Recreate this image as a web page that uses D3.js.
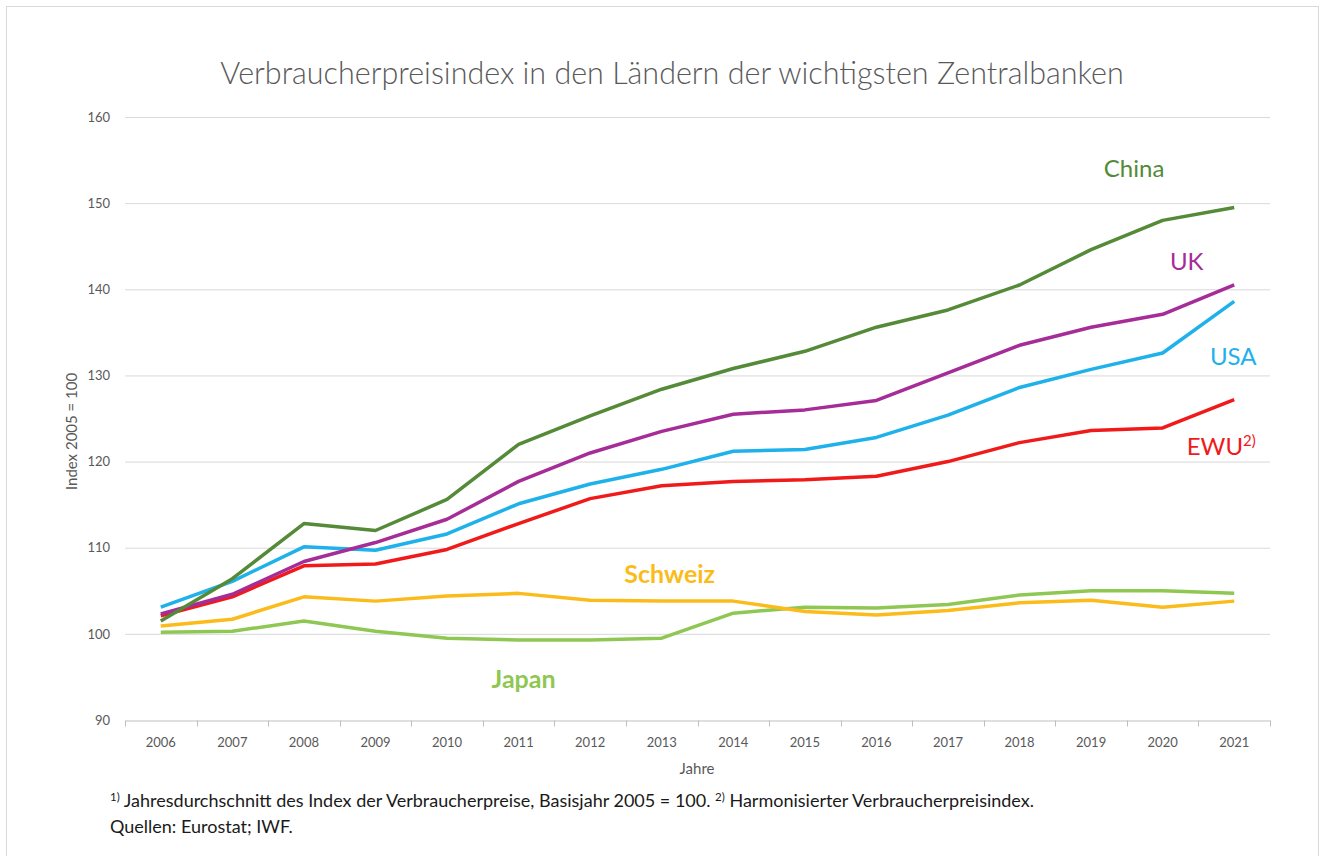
<!DOCTYPE html>
<html>
<head>
<meta charset="utf-8">
<script src="https://cdn.jsdelivr.net/npm/d3@7"></script>
<style>
  body { margin: 0; background: #fff; }
  svg { font-family: Lato, "Open Sans", sans-serif; }
</style>
</head>
<body>
<div class="canvas"></div>
<script>
const years = ['2006','2007','2008','2009','2010','2011','2012','2013','2014','2015','2016','2017','2018','2019','2020','2021'];
const yTicks = [90, 100, 110, 120, 130, 140, 150, 160];

const china   = [101.5,106.4,112.8,112.0,115.6,122.0,125.3,128.4,130.8,132.8,135.6,137.6,140.5,144.6,148.0,149.5];
const uk      = [102.3,104.6,108.4,110.6,113.3,117.7,121.0,123.5,125.5,126.0,127.1,130.3,133.5,135.6,137.1,140.5];
const usa     = [103.1,106.1,110.1,109.7,111.6,115.1,117.4,119.1,121.2,121.4,122.8,125.4,128.6,130.7,132.6,138.6];
const ewu     = [102.1,104.3,107.9,108.1,109.8,112.8,115.7,117.2,117.7,117.9,118.3,120.0,122.2,123.6,123.9,127.2];
const schweiz = [100.9,101.7,104.3,103.8,104.4,104.7,103.9,103.8,103.8,102.6,102.2,102.7,103.6,103.9,103.1,103.8];
const japan   = [100.2,100.3,101.5,100.3,99.5,99.3,99.3,99.5,102.4,103.1,103.0,103.4,104.5,105.0,105.0,104.7];

// series drawn in this order (last on top)
const series = [
  { name: 'Japan',   values: japan,   color: '#8ec853' },
  { name: 'Schweiz', values: schweiz, color: '#fbbc1b' },
  { name: 'EWU',     values: ewu,     color: '#f01a1a' },
  { name: 'USA',     values: usa,     color: '#1eb1ea' },
  { name: 'UK',      values: uk,      color: '#a62c98' },
  { name: 'China',   values: china,   color: '#548a38' }
];

// direct labels next to the lines
const labels = [
  { text: 'China',   year: '2019', dx: 43,  value: 153.0, color: '#548a38', bold: false },
  { text: 'UK',      year: '2020', dx: 24,  value: 142.2, color: '#a62c98', bold: false },
  { text: 'USA',     year: '2021', dx: -1,  value: 131.2, color: '#1eb1ea', bold: false },
  { text: 'EWU',     year: '2021', dx: -13, value: 120.8, color: '#f01a1a', bold: false, sup: '2)' },
  { text: 'Schweiz', year: '2013', dx: 8,   value: 105.9, color: '#fbbc1b', bold: true },
  { text: 'Japan',   year: '2011', dx: 5,   value: 93.7,  color: '#8ec853', bold: true }
];

const W = 1326, H = 856;
const margin = { top: 117, right: 56, bottom: 136, left: 125 };
const graphWidth = W - margin.left - margin.right;
const graphHeight = H - margin.top - margin.bottom;

const svg = d3.select('.canvas').append('svg')
  .attr('width', W).attr('height', H);

// outer frame
svg.append('rect')
  .attr('x', 6.5).attr('y', 6.5).attr('width', 1312).attr('height', 860)
  .attr('fill', 'none').attr('stroke', '#d9d9d9');

svg.append('text')
  .attr('x', 672).attr('y', 84)
  .attr('text-anchor', 'middle')
  .attr('font-size', 30.5).attr('fill', '#595959')
  .attr('font-weight', 300)
  .text('Verbraucherpreisindex in den Ländern der wichtigsten Zentralbanken');

const graph = svg.append('g')
  .attr('transform', `translate(${margin.left}, ${margin.top})`);

const xScale = d3.scaleBand().domain(years).range([0, graphWidth]);
const yScale = d3.scaleLinear().domain([90, 160]).range([graphHeight, 0]);

// gridlines
graph.append('g').selectAll('line')
  .data(yTicks.filter(d => d > 90))
  .join('line')
  .attr('x1', 0).attr('x2', graphWidth)
  .attr('y1', d => yScale(d) + 0.5).attr('y2', d => yScale(d) + 0.5)
  .attr('stroke', '#d9d9d9').attr('stroke-width', 1);

// y axis labels
const yAxis = graph.append('g')
  .call(d3.axisLeft(yScale).tickValues(yTicks).tickSize(0).tickPadding(15));
yAxis.select('.domain').remove();
yAxis.selectAll('text').attr('font-size', 13).attr('fill', '#595959')
  .attr('font-family', 'Lato, sans-serif');

// x axis
const xAxis = graph.append('g')
  .attr('transform', `translate(0, ${graphHeight + 0.5})`)
  .call(d3.axisBottom(xScale).tickSize(0).tickPadding(17));
xAxis.select('.domain').attr('stroke', '#bfbfbf');
xAxis.selectAll('text').attr('font-size', 13).attr('fill', '#595959')
  .attr('font-family', 'Lato, sans-serif');
// band boundary ticks
const bounds = years.map(d => xScale(d)).concat([graphWidth]);
xAxis.selectAll('.bt').data(bounds).join('line').attr('class', 'bt')
  .attr('x1', d => Math.round(d) + 0.5).attr('x2', d => Math.round(d) + 0.5)
  .attr('y1', 0).attr('y2', 6)
  .attr('stroke', '#bfbfbf');

// axis titles
svg.append('text')
  .attr('transform', `translate(77, ${margin.top + yScale(123.5)}) rotate(-90)`)
  .attr('text-anchor', 'middle')
  .attr('font-size', 15).attr('fill', '#595959')
  .text('Index 2005 = 100');

svg.append('text')
  .attr('x', 697).attr('y', 774)
  .attr('text-anchor', 'middle')
  .attr('font-size', 15).attr('fill', '#595959')
  .text('Jahre');

// lines
const line = d3.line()
  .x((d, i) => xScale(years[i]) + xScale.bandwidth() / 2)
  .y(d => yScale(d));

graph.append('g').selectAll('path')
  .data(series)
  .join('path')
  .attr('d', d => line(d.values))
  .attr('fill', 'none')
  .attr('stroke', d => d.color)
  .attr('stroke-width', 3.5)
  .attr('stroke-linejoin', 'round');

// series labels
const lab = graph.append('g').selectAll('text')
  .data(labels)
  .join('text')
  .attr('x', d => xScale(d.year) + xScale.bandwidth() / 2 + d.dx)
  .attr('y', d => yScale(d.value))
  .attr('text-anchor', 'middle')
  .attr('font-size', d => d.bold ? 25 : 24)
  .attr('font-weight', d => d.bold ? 700 : 400)
  .attr('fill', d => d.color);
lab.append('tspan').text(d => d.text);
lab.filter(d => d.sup).append('tspan')
  .attr('dy', -9).attr('font-size', 15)
  .text(d => d.sup);

// footnotes
const foot = svg.append('text')
  .attr('x', 110).attr('y', 807)
  .attr('font-size', 18).attr('fill', '#1a1a1a');
foot.append('tspan').attr('font-size', 11.5).attr('dy', -6).text('1)');
foot.append('tspan').attr('dy', 6).text(' Jahresdurchschnitt des Index der Verbraucherpreise, Basisjahr 2005 = 100. ');
foot.append('tspan').attr('font-size', 11.5).attr('dy', -6).text('2)');
foot.append('tspan').attr('dy', 6).text(' Harmonisierter Verbraucherpreisindex.');

svg.append('text')
  .attr('x', 110).attr('y', 833)
  .attr('font-size', 18).attr('fill', '#1a1a1a')
  .text('Quellen: Eurostat; IWF.');
</script>
</body>
</html>
